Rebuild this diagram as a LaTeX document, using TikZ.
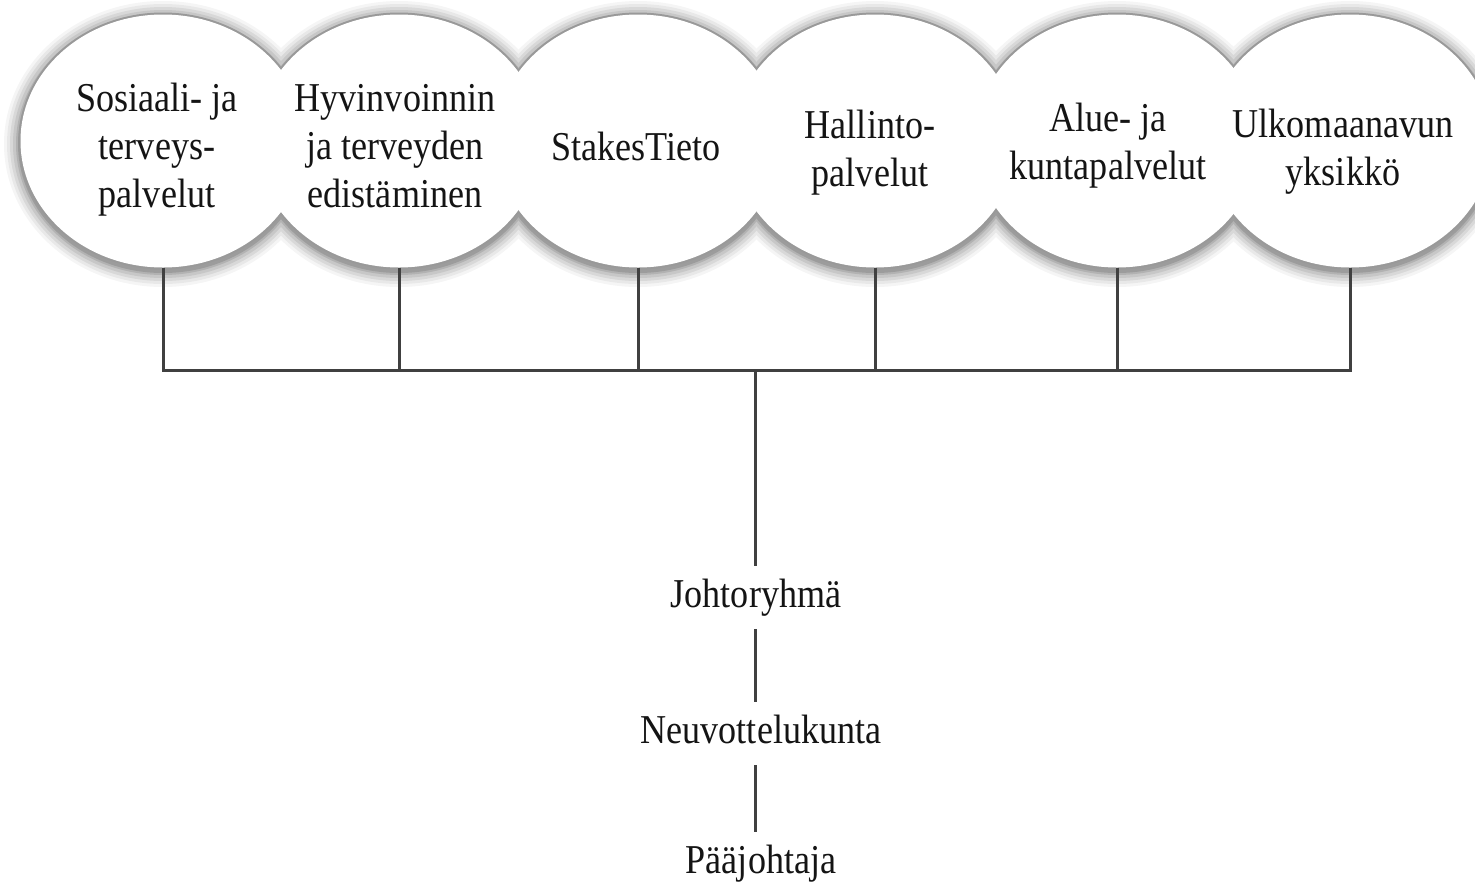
\documentclass[tikz,border=0pt]{standalone}
\usepackage{fontspec}
\setmainfont{Liberation Serif}[FakeStretch=0.88]
\usetikzlibrary{shapes.geometric}
\begin{document}
\begin{tikzpicture}[x=1pt,y=1pt,
  circ/.style={ellipse, minimum width=286pt, minimum height=254pt, inner sep=0pt},
  lab/.style={align=center, font=\fontsize{41}{48}\selectfont, text=black!92, inner sep=0pt},
  bottomlab/.style={font=\fontsize{41}{48}\selectfont, text=black!92, text height=28pt, text depth=9pt, inner xsep=0pt, inner ysep=13pt},
  conn/.style={draw=black!75, line width=3pt}]
\useasboundingbox (0,0) rectangle (1475,-887);
\fill[white] (0,0) rectangle (1475,-887);
% circle anchors
\foreach \n/\x in {1/163,2/399,3/638,4/875,5/1117,6/1350}
  \node[circ] (c\n) at (\x,-141) {};
% soft shadow
\foreach \k/\o in {16/0.04, 13/0.05, 10/0.065, 7/0.08, 4/0.1, 2/0.12} {
  \begin{scope}[transparency group, opacity=\o]
    \foreach \n in {1,...,6}
      \fill[black] ([yshift=-3pt]c\n.center) ellipse [x radius=143+\k, y radius=127+\k];
  \end{scope}
}
% outline of the union
\foreach \n in {1,...,6}
  \fill[black!40] (c\n.center) ellipse [x radius=144.5, y radius=128.5];
\foreach \n in {1,...,6}
  \fill[white] (c\n.center) ellipse [x radius=142.5, y radius=126.5];
% labels
\node[lab] (t1) at (157,-150) {Sosiaali- ja\\terveys-\\palvelut};
\node[lab] (t2) at (395,-146) {Hyvinvoinnin\\ja terveyden\\edistäminen};
\node[lab] (t3) at (636,-146) {StakesTieto};
\node[lab] (t4) at (870,-153) {Hallinto-\\palvelut};
\node[lab] (t5) at (1108,-146) {Alue- ja\\kuntapalvelut};
\node[lab] (t6) at (1343,-152) {Ulkomaanavun\\yksikkö};
% bus
\coordinate (bus) at (755,-370);
\draw[conn] (c1.south) -- (c1.south |- bus) -- (c6.south |- bus) -- (c6.south);
\foreach \n in {2,...,5}
  \draw[conn] (c\n.south) -- (c\n.south |- bus);
% lower chain
\node[bottomlab] (j) at (756,-597.5) {Johtoryhmä};
\node[bottomlab] (nk) at (761,-733.5) {Neuvottelukunta};
\node[bottomlab] (pj) at (761,-863.5) {Pääjohtaja};
\draw[conn] (bus) -- (bus |- j.north);
\draw[conn] (bus |- j.south) -- (bus |- nk.north);
\draw[conn] (bus |- nk.south) -- (bus |- pj.north);
\end{tikzpicture}
\end{document}
